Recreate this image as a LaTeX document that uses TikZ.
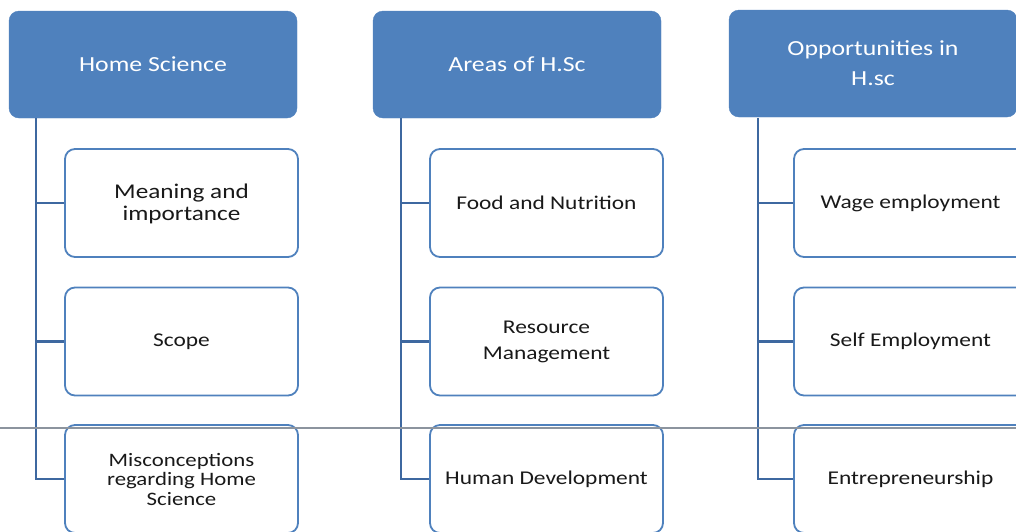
\documentclass[tikz,border=0pt]{standalone}
\usepackage{fontspec}
\setmainfont{Carlito}[FakeStretch=1.2]
\usepackage{xcolor}
\usepackage{tikz}
\usetikzlibrary{calc,positioning}

\definecolor{hsblue}{RGB}{79,129,189}
\definecolor{hsline}{RGB}{62,104,160}
\definecolor{hsgray}{RGB}{140,148,158}

\begin{document}
\begin{tikzpicture}[x=1pt,y=-1pt,
  head/.style={draw=hsblue, fill=hsblue, rounded corners=10pt,
               minimum width=288pt, minimum height=107pt, inner sep=0pt,
               text=white, align=center, font=\fontsize{21.5}{30}\selectfont},
  item/.style={draw=hsblue, line width=1.8pt, fill=white, rounded corners=10pt,
               minimum width=233pt, minimum height=108pt, inner sep=0pt,
               text=black!90, align=center, font=\fontsize{19.5}{22}\selectfont},
  link/.style={draw=hsline, line width=2.2pt}]
  \useasboundingbox (0,0) rectangle (1016,531);
  \clip (0,0) rectangle (1016,531);

  % 見出しの箱
  \node[head] (home) at (153,64.5) {Home Science};
  \node[head] (areas) at (517,64.5) {Areas of H.Sc};
  \node[head] (opps) at (873,63.5) {Opportunities in\\H.sc};

  % 左の列
  \node[item, font=\fontsize{21}{22}\selectfont] (meaning) at (181.5,203) {\strut Meaning and\\importance};
  \node[item] (scope) at (181.5,341.5) {Scope};
  \node[item, font=\fontsize{19}{19.5}\selectfont] (miscon) at (181.5,479) {Misconceptions\\regarding Home\\Science};

  % 中央の列
  \node[item] (food) at (546.5,203) {Food and Nutrition};
  \node[item, font=\fontsize{19.5}{26}\selectfont] (resource) at (546.5,341.5) {Resource\\Management};
  \node[item] (human) at (546.5,479) {Human Development};

  % 右の列
  \node[item] (wage) at (910.5,203) {Wage employment};
  \node[item] (self) at (910.5,341.5) {Self Employment};
  \node[item] (entre) at (910.5,479) {Entrepreneurship};

  % 縦線と枝
  \coordinate (t1) at ($(home.south west)+(27,0)$);
  \coordinate (t2) at ($(areas.south west)+(28,0)$);
  \coordinate (t3) at ($(opps.south west)+(29,1)$);
  \draw[link] (t1) |- (meaning.west);
  \draw[link] (t1) |- (scope.west);
  \draw[link] (t1) |- (miscon.west);
  \draw[link] (t2) |- (food.west);
  \draw[link] (t2) |- (resource.west);
  \draw[link] (t2) |- (human.west);
  \draw[link] (t3) |- (wage.west);
  \draw[link] (t3) |- (self.west);
  \draw[link] (t3) |- (entre.west);

  % 横の灰色の線
  \draw[hsgray, line width=2pt] (0,428) -- (1016,428);
\end{tikzpicture}
\end{document}
